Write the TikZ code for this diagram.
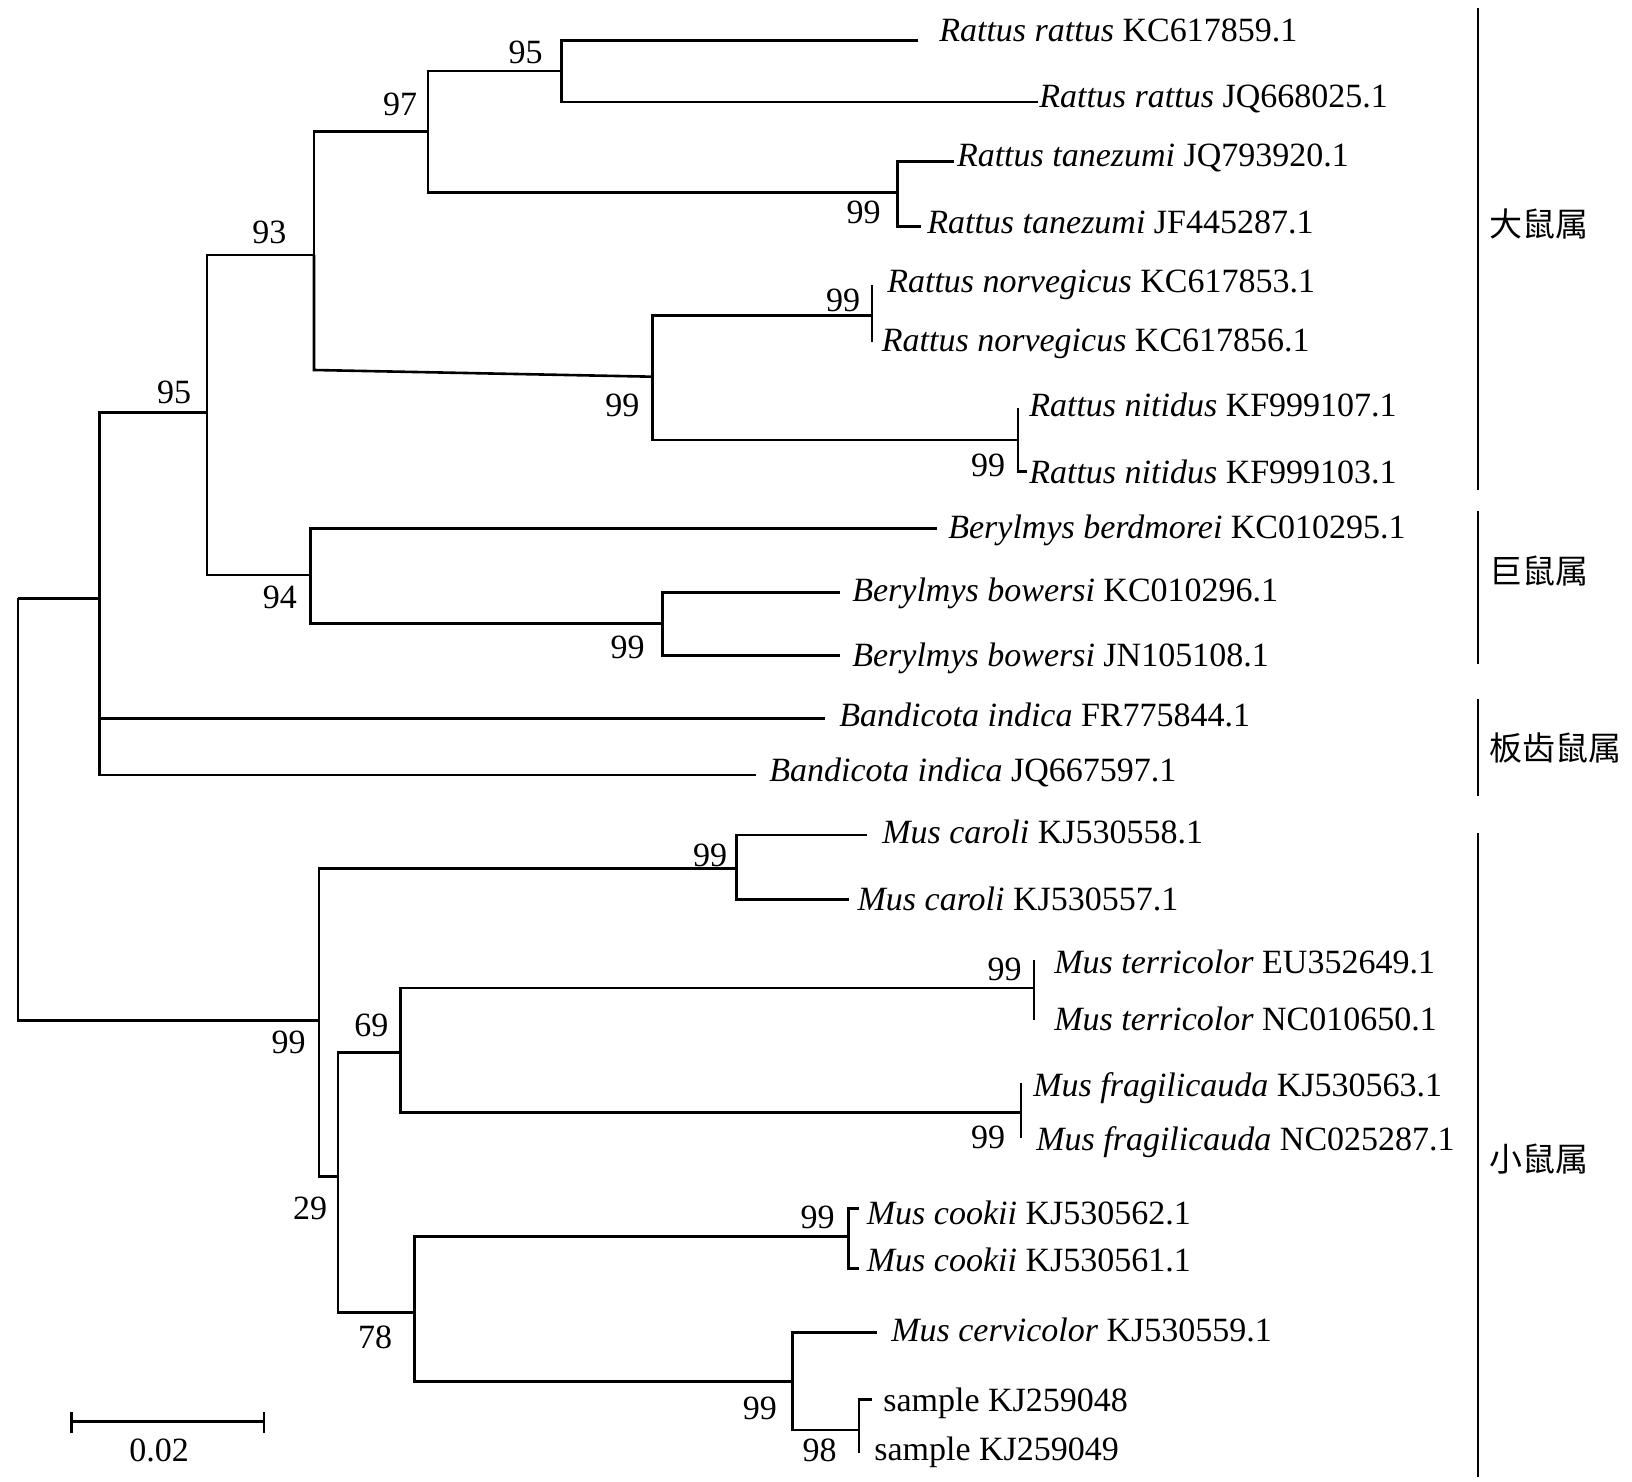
\documentclass[tikz,border=0pt]{standalone}
\usepackage{fontspec}
\setmainfont{Liberation Serif}
\newfontfamily\cjk{Noto Sans CJK SC}

\tikzset{every picture/.style={line width=1.3pt}}
\tikzset{
  tiplabel/.style={anchor=base west, inner sep=0pt, font=\fontsize{17}{20}\selectfont},
  boot/.style={anchor=base east, inner sep=0pt, font=\fontsize{17}{20}\selectfont},
  genus/.style={anchor=west, inner sep=0pt, font=\cjk\fontsize{16.5}{20}\selectfont},
  bracket/.style={line width=1pt}
}

\begin{document}
\begin{tikzpicture}[x=0.5pt,y=0.5pt,yscale=-1,xscale=1]
\useasboundingbox (0,0) rectangle (1632,1482);

%Internal nodes
\coordinate (root) at (18,598.3);
\coordinate (nA) at (99.4,598.3);
\coordinate (nB) at (207,412.7);
\coordinate (nC) at (314,255);
\coordinate (nCb) at (314,370);
\coordinate (nD) at (427.8,131.7);
\coordinate (nE) at (561.2,71);
\coordinate (nTan) at (897.7,192.3);
\coordinate (nRn) at (652.7,376.7);
\coordinate (nNor) at (871.8,315.7);
\coordinate (nNit) at (1017.8,440);
\coordinate (nBer) at (310.7,575);
\coordinate (nBow) at (662.7,623.3);
\coordinate (nMus) at (319,1020.7);
\coordinate (nCar) at (736.4,868.3);
\coordinate (n29) at (338,1176.7);
\coordinate (n69) at (400.6,1052.7);
\coordinate (nTer) at (1033.9,988);
\coordinate (nFra) at (1020.9,1112.5);
\coordinate (n78) at (414.2,1312.3);
\coordinate (nCoo) at (848.5,1236.7);
\coordinate (nCer) at (792.4,1381.7);
\coordinate (nSam) at (858.8,1430);

%Tips
\coordinate (t1) at (918.4,40.7);
\coordinate (t2) at (1037.5,102);
\coordinate (t3) at (953.6,161.7);
\coordinate (t4) at (921,226.7);
\coordinate (t5) at (871.8,285);
\coordinate (t6) at (871.8,341.7);
\coordinate (t7) at (1017.8,408);
\coordinate (t8) at (1027,471.7);
\coordinate (t9) at (936.5,528.3);
\coordinate (t10) at (839.7,592.7);
\coordinate (t11) at (839.7,655.7);
\coordinate (t12) at (825,718.3);
\coordinate (t13) at (755.7,775);
\coordinate (t14) at (866.6,835);
\coordinate (t15) at (848.5,899.3);
\coordinate (t16) at (1033.9,960);
\coordinate (t17) at (1033.9,1020);
\coordinate (t18) at (1020.9,1082.7);
\coordinate (t19) at (1020.9,1138.3);
\coordinate (t20) at (858.8,1208.3);
\coordinate (t21) at (858.8,1268.3);
\coordinate (t22) at (877,1332.7);
\coordinate (t23) at (871.8,1399.3);
\coordinate (t24) at (858.8,1453.3);

%Straight Lines
\draw (root) |- (nA);
\draw (root) |- (nMus);
\draw (nA) |- (nB);
\draw (nA) |- (t12);
\draw (nA) |- (t13);
\draw (nB) |- (nC);
\draw (nB) |- (nBer);
\draw (nC) |- (nD);
\draw (nC) -- (nCb) -- (nRn);
\draw (nD) |- (nE);
\draw (nD) |- (nTan);
\draw (nE) |- (t1);
\draw (nE) |- (t2);
\draw (nTan) |- (t3);
\draw (nTan) |- (t4);
\draw (nRn) |- (nNor);
\draw (nRn) |- (nNit);
\draw (nNor) |- (t5);
\draw (nNor) |- (t6);
\draw (nNit) |- (t7);
\draw (nNit) |- (t8);
\draw (nBer) |- (t9);
\draw (nBer) |- (nBow);
\draw (nBow) |- (t10);
\draw (nBow) |- (t11);
\draw (nMus) |- (nCar);
\draw (nMus) |- (n29);
\draw (nCar) |- (t14);
\draw (nCar) |- (t15);
\draw (n29) |- (n69);
\draw (n29) |- (n78);
\draw (n69) |- (nTer);
\draw (n69) |- (nFra);
\draw (nTer) |- (t16);
\draw (nTer) |- (t17);
\draw (nFra) |- (t18);
\draw (nFra) |- (t19);
\draw (n78) |- (nCoo);
\draw (n78) |- (nCer);
\draw (nCoo) |- (t20);
\draw (nCoo) |- (t21);
\draw (nCer) |- (t22);
\draw (nCer) |- (nSam);
\draw (nSam) |- (t23);
\draw (nSam) |- (t24);

% Text Node
\node[tiplabel] (l1) at (938,41.7) {\textit{Rattus rattus} KC617859.1};
\node[tiplabel] (l2) at (1038,107.3) {\textit{Rattus rattus} JQ668025.1};
\node[tiplabel] (l3) at (955.7,166.7) {\textit{Rattus tanezumi} JQ793920.1};
\node[tiplabel] (l4) at (926,233.3) {\textit{Rattus tanezumi} JF445287.1};
\node[tiplabel] (l5) at (886,292.7) {\textit{Rattus norvegicus} KC617853.1};
\node[tiplabel] (l6) at (880.6,351) {\textit{Rattus norvegicus} KC617856.1};
\node[tiplabel] (l7) at (1028,416.7) {\textit{Rattus nitidus} KF999107.1};
\node[tiplabel] (l8) at (1028,483.3) {\textit{Rattus nitidus} KF999103.1};
\node[tiplabel] (l9) at (947,538.3) {\textit{Berylmys berdmorei} KC010295.1};
\node[tiplabel] (l10) at (851,601.7) {\textit{Berylmys bowersi} KC010296.1};
\node[tiplabel] (l11) at (851,666.7) {\textit{Berylmys bowersi} JN105108.1};
\node[tiplabel] (l12) at (838,726.7) {\textit{Bandicota indica} FR775844.1};
\node[tiplabel] (l13) at (768,781.7) {\textit{Bandicota indica} JQ667597.1};
\node[tiplabel] (l14) at (881,843.3) {\textit{Mus caroli} KJ530558.1};
\node[tiplabel] (l15) at (856.3,910) {\textit{Mus caroli} KJ530557.1};
\node[tiplabel] (l16) at (1053,973.3) {\textit{Mus terricolor} EU352649.1};
\node[tiplabel] (l17) at (1053,1030) {\textit{Mus terricolor} NC010650.1};
\node[tiplabel] (l18) at (1032,1096.7) {\textit{Mus fragilicauda} KJ530563.1};
\node[tiplabel] (l19) at (1035,1150) {\textit{Mus fragilicauda} NC025287.1};
\node[tiplabel] (l20) at (865.6,1224.3) {\textit{Mus cookii} KJ530562.1};
\node[tiplabel] (l21) at (865.6,1271.7) {\textit{Mus cookii} KJ530561.1};
\node[tiplabel] (l22) at (890,1341.7) {\textit{Mus cervicolor} KJ530559.1};
\node[tiplabel] (l23) at (882,1411.7) {sample KJ259048};
\node[tiplabel] (l24) at (873,1460) {sample KJ259049};

% Text Node
\node[boot] (bE) at (544,63.3) {95};
\node[boot] (bD) at (418.4,116) {97};
\node[boot] (bC) at (287.7,243.3) {93};
\node[boot] (bB) at (192.5,403.3) {95};
\node[boot] (bRn) at (640.7,416.7) {99};
\node[boot] (bTan) at (882,223.3) {99};
\node[boot] (bNor) at (861.4,311.7) {99};
\node[boot] (bNit) at (1006.4,476.7) {99};
\node[boot] (bBer) at (298.1,608.3) {94};
\node[boot] (bBow) at (645.9,658.3) {99};
\node[boot] (bCar) at (728.5,866.7) {99};
\node[boot] (bMus) at (307,1053.3) {99};
\node[boot] (b69) at (389.6,1036.7) {69};
\node[boot] (b29) at (328.5,1219.3) {29};
\node[boot] (b78) at (393.3,1348.3) {78};
\node[boot] (bTer) at (1023,980) {99};
\node[boot] (bFra) at (1006.4,1148.3) {99};
\node[boot] (bCoo) at (836,1228.3) {99};
\node[boot] (bCer) at (778.2,1419.3) {99};
\node[boot] (bSam) at (838,1461.7) {98};

%Genus brackets
\draw[bracket] (1477.7,8.3) -- (1477.7,490);
\draw[bracket] (1477.7,510.7) -- (1477.7,664.3);
\draw[bracket] (1477.7,699.3) -- (1477.7,796);
\draw[bracket] (1477.7,833.3) -- (1477.7,1476.7);
\node[genus] (gRat) at (1488,224) {大鼠属};
\node[genus] (gBer) at (1488,571) {巨鼠属};
\node[genus] (gBan) at (1488,747.5) {板齿鼠属};
\node[genus] (gMus) at (1488,1159) {小鼠属};

%Scale bar
\coordinate (sbL) at (71.7,1421.7);
\coordinate (sbR) at (264.1,1421.7);
\draw (sbL) -- (sbR);
\draw (71.7,1411.7) -- (71.7,1432.7);
\draw (264.1,1411.7) -- (264.1,1432.7);
\node[anchor=base, inner sep=0pt, font=\fontsize{17}{20}\selectfont] (sbT) at (159,1461.7) {0.02};

\end{tikzpicture}
\end{document}
